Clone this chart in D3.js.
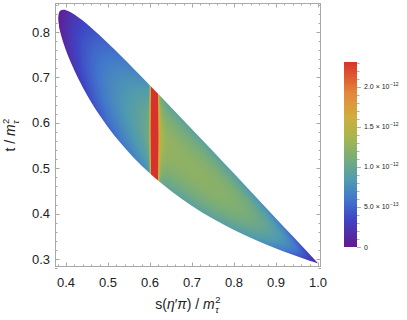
<!DOCTYPE html>
<html>
<head>
<meta charset="utf-8">
<script src="https://cdn.jsdelivr.net/npm/d3@7"></script>
<style>
  body { margin: 0; background: #fff; }
  text { font-family: "Liberation Sans", Arial, sans-serif; fill: #222; }
</style>
</head>
<body>
<svg id="chart" width="407" height="320"></svg>
<script>

// Dalitz boundary, s and t in units of m_tau^2
const sEdge  = [0.3814, 0.383, 0.386, 0.39, 0.395, 0.40, 0.41, 0.42, 0.44, 0.46, 0.48, 0.50, 0.53, 0.56, 0.60, 0.65, 0.70, 0.75, 0.80, 0.85, 0.90, 0.94, 0.97, 0.99, 1.0];
const tUpper = [0.8305, 0.8414, 0.8462, 0.8485, 0.8490, 0.8482, 0.8443, 0.8388, 0.8251, 0.8094, 0.7926, 0.7751, 0.7480, 0.7202, 0.6824, 0.6345, 0.5860, 0.5372, 0.4881, 0.4389, 0.3895, 0.3500, 0.3203, 0.3005, 0.2906];
const tLower = [0.8305, 0.8148, 0.8013, 0.7874, 0.7726, 0.7595, 0.7360, 0.7151, 0.6780, 0.6455, 0.6166, 0.5904, 0.5553, 0.5243, 0.4883, 0.4498, 0.4170, 0.3887, 0.3641, 0.3424, 0.3232, 0.3093, 0.2996, 0.2935, 0.2906];

// density along the middle of the strip, in units of 1e-12
const sVal = [0.3814, 0.39, 0.41, 0.44, 0.47, 0.50, 0.53, 0.56, 0.585, 0.597, 0.601, 0.6035, 0.6175, 0.6205, 0.626, 0.64, 0.68, 0.72, 0.76, 0.80, 0.84, 0.88, 0.92, 0.95, 0.975, 1.0];
const zVal = [0.02, 0.10, 0.24, 0.42, 0.56, 0.68, 0.78, 0.88, 0.97, 1.05, 1.8, 4.0, 4.0, 1.8, 1.38, 1.26, 1.23, 1.22, 1.2, 1.16, 1.08, 0.95, 0.77, 0.58, 0.36, 0.10];

const xTicks = [0.4, 0.5, 0.6, 0.7, 0.8, 0.9, 1.0];
const yTicks = [0.3, 0.4, 0.5, 0.6, 0.7, 0.8];
const legendValues = [0, 0.5, 1.0, 1.5, 2.0];
const legendMantissa = ["0", "5.0", "1.0", "1.5", "2.0"];
const legendExponent = [null, "\u221213", "\u221212", "\u221212", "\u221212"];

const zMax = 2.31;
const edgeDip = 0.25;

// colours of the legend bar, bottom to top
const colourStops = [0, 0.03, 0.15, 0.26, 0.36, 0.48, 0.59, 0.70, 0.83, 0.92, 1.0];
const colours = ["#6a1b8e", "#5c2199", "#3e45c4", "#4277cc", "#4f9bb0", "#79ad78", "#a6b64e", "#cfae3e", "#e4883a", "#df5a30", "#d8322c"];

const svg = d3.select("#chart");
const x0 = 55, x1 = 321, y0 = 3, y1 = 267;

const x = d3.scaleLinear().domain([0.3738, 1.0071]).range([x0, x1]);
const y = d3.scaleLinear().domain([0.8639, 0.2824]).range([y0, y1]);

const upper = d3.scaleLinear().domain(sEdge).range(tUpper);
const lower = d3.scaleLinear().domain(sEdge).range(tLower);
const zAlong = d3.scaleLinear().domain(sVal).range(zVal);

const color = d3.scaleLinear()
    .domain(colourStops.map(f => f * zMax))
    .range(colours)
    .interpolate(d3.interpolateRgb)
    .clamp(true);

// raster of the density, clipped to the region
const cw = x1 - x0, ch = y1 - y0;
const canvas = document.createElement("canvas");
canvas.width = cw; canvas.height = ch;
const ctx = canvas.getContext("2d");
const img = ctx.createImageData(cw, ch);
for (let py = 0; py < ch; py++) {
    const t = y.invert(y0 + py + 0.5);
    for (let px = 0; px < cw; px++) {
        let s = x.invert(x0 + px + 0.5);
        if (s < sEdge[0] - 0.004 || s > 1.004) continue;
        s = Math.max(sEdge[0], Math.min(1, s));
        const th = upper(s), tl = lower(s);
        if (t > th + 0.006 || t < tl - 0.006) continue;
        const u = Math.max(-1, Math.min(1, (2 * t - th - tl) / Math.max(th - tl, 1e-6)));
        const v = zAlong(s) * (1 - edgeDip * u * u);
        const c = d3.rgb(color(v));
        const k = (py * cw + px) * 4;
        img.data[k] = c.r; img.data[k + 1] = c.g; img.data[k + 2] = c.b; img.data[k + 3] = 255;
    }
}
ctx.putImageData(img, 0, 0);

const region = d3.area()
    .x((d, i) => x(sEdge[i]))
    .y0((d, i) => y(tLower[i]))
    .y1((d, i) => y(tUpper[i]))
    .curve(d3.curveMonotoneX);

svg.append("clipPath").attr("id", "region")
    .append("path").attr("d", region(sEdge));

svg.append("image")
    .attr("x", x0).attr("y", y0)
    .attr("width", cw).attr("height", ch)
    .attr("preserveAspectRatio", "none")
    .attr("href", canvas.toDataURL())
    .attr("clip-path", "url(#region)");

// frame and ticks
const frameColor = "#a8a8a8";
svg.append("rect")
    .attr("x", x0 + 0.5).attr("y", y0 + 0.5)
    .attr("width", cw - 1).attr("height", ch - 1)
    .attr("fill", "none").attr("stroke", frameColor);

const xMinor = d3.range(0.38, 1.0001, 0.02);
const yMinor = d3.range(0.28, 0.8601, 0.02);
const tickG = svg.append("g").attr("stroke", frameColor).attr("stroke-width", 1);
xMinor.forEach(v => {
    const major = xTicks.some(m => Math.abs(m - v) < 1e-6);
    const len = major ? 4.5 : 2.5;
    const px = Math.round(x(v)) + 0.5;
    tickG.append("line").attr("x1", px).attr("x2", px).attr("y1", y1).attr("y2", y1 - len);
    tickG.append("line").attr("x1", px).attr("x2", px).attr("y1", y0).attr("y2", y0 + len);
});
yMinor.forEach(v => {
    const major = yTicks.some(m => Math.abs(m - v) < 1e-6);
    const len = major ? 4.5 : 2.5;
    const py = Math.round(y(v)) + 0.5;
    tickG.append("line").attr("y1", py).attr("y2", py).attr("x1", x0).attr("x2", x0 + len);
    tickG.append("line").attr("y1", py).attr("y2", py).attr("x1", x1).attr("x2", x1 - len);
});

svg.append("g").selectAll("text").data(xTicks).enter().append("text")
    .attr("x", d => x(d)).attr("y", y1 + 20)
    .attr("text-anchor", "middle").style("font-size", "13px")
    .text(d => d.toFixed(1));

svg.append("g").selectAll("text").data(yTicks).enter().append("text")
    .attr("x", x0 - 5).attr("y", d => y(d) + 4.5)
    .attr("text-anchor", "end").style("font-size", "13px")
    .text(d => d.toFixed(1));

// axis labels with m_tau^2
function massLabel(g, pieces) {
    const t = g.append("text").style("font-size", "14px");
    pieces.forEach(p => t.append("tspan").style("font-style", p[1] ? "italic" : "normal").text(p[0]));
    const w = t.node().getComputedTextLength();
    g.append("text").attr("x", w + 0.5).attr("y", 3.5).style("font-size", "9.5px").style("font-style", "italic").text("\u03c4");
    g.append("text").attr("x", w + 0.5).attr("y", -6).style("font-size", "9.5px").text("2");
    return w + 6;
}

const xl = svg.append("g");
const xw = massLabel(xl, [["s(", false], ["\u03b7", true], ["\u2032", false], ["\u03c0", true], [") / ", false], ["m", true]]);
xl.attr("transform", `translate(${(x0 + x1) / 2 - xw / 2},${y1 + 42})`);

const yl = svg.append("g");
const yw = massLabel(yl, [["t / ", false], ["m", true]]);
yl.attr("transform", `translate(15,${(y0 + y1) / 2 + yw / 2}) rotate(-90)`);

// colour legend
const lx = 344, lw = 13, ly0 = 247, ly1 = 62;
const ly = d3.scaleLinear().domain([0, zMax]).range([ly0, ly1]);

const grad = svg.append("defs").append("linearGradient")
    .attr("id", "legendGrad").attr("x1", 0).attr("y1", 1).attr("x2", 0).attr("y2", 0);
colourStops.forEach((f, i) => grad.append("stop").attr("offset", f).attr("stop-color", colours[i]));

svg.append("rect")
    .attr("x", lx).attr("y", ly1).attr("width", lw).attr("height", ly0 - ly1)
    .attr("fill", "url(#legendGrad)");

const legTicks = svg.append("g").attr("stroke", "#b0b0b0");
d3.range(0, zMax, 0.1).forEach(v => {
    const major = legendValues.some(m => Math.abs(m - v) < 1e-6);
    const py = Math.round(ly(v)) + 0.5;
    legTicks.append("line").attr("x1", lx + lw).attr("x2", lx + lw + (major ? 4 : 2.5)).attr("y1", py).attr("y2", py);
});

const legLabels = svg.append("g").selectAll("g").data(legendValues).enter().append("g")
    .attr("transform", d => `translate(${lx + lw + 7},${ly(d) + 2.5})`);
legLabels.append("text").style("font-size", "7px")
    .text((d, i) => legendMantissa[i] + (legendExponent[i] ? " \u00d7 10" : ""));
legLabels.filter((d, i) => legendExponent[i])
    .append("text").style("font-size", "5px")
    .attr("x", function () { return this.parentNode.querySelector("text").getComputedTextLength() + 0.5; })
    .attr("y", -3.5)
    .text((d, i) => legendExponent[legendValues.indexOf(d)]);

</script>
</body>
</html>
